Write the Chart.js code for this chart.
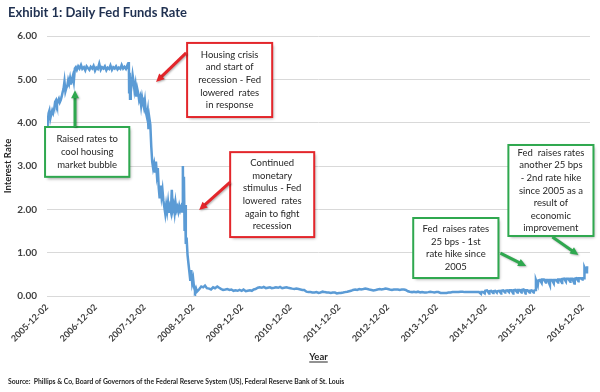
<!DOCTYPE html>
<html>
<head>
<meta charset="utf-8">
<script src="https://cdn.jsdelivr.net/npm/chart.js@4.4.1/dist/chart.umd.min.js"></script>
<style>
    html, body { margin: 0; padding: 0; background: #fff; }
</style>
</head>
<body>
<canvas id="chart" width="600" height="392"></canvas>
<script>
// daily fed funds rate (not every day, the visible turns)
var dates = [
    '2005-12-02', '2005-12-07', '2005-12-14', '2005-12-20', '2005-12-27',
    '2006-01-03', '2006-01-10', '2006-01-17', '2006-01-25', '2006-02-01', '2006-02-08', '2006-02-15', '2006-02-22',
    '2006-03-01', '2006-03-08', '2006-03-15', '2006-03-22', '2006-03-29', '2006-04-05', '2006-04-12', '2006-04-19',
    '2006-04-26', '2006-05-03', '2006-05-10', '2006-05-17', '2006-05-24', '2006-05-31', '2006-06-07', '2006-06-14',
    '2006-06-21', '2006-06-29',
    '2006-07-06', '2006-07-14', '2006-07-24', '2006-08-03', '2006-08-14', '2006-08-24', '2006-09-05', '2006-09-15',
    '2006-09-25', '2006-10-05', '2006-10-16', '2006-10-26', '2006-11-06', '2006-11-16', '2006-11-27', '2006-12-07',
    '2006-12-18', '2006-12-29', '2007-01-09', '2007-01-19', '2007-01-30', '2007-02-09', '2007-02-20', '2007-03-02',
    '2007-03-13', '2007-03-23', '2007-04-03', '2007-04-13', '2007-04-24', '2007-05-04', '2007-05-15', '2007-05-25',
    '2007-06-05', '2007-06-15', '2007-06-26', '2007-07-06', '2007-07-17', '2007-07-27', '2007-08-03', '2007-08-08',
    '2007-08-10', '2007-08-14', '2007-08-17', '2007-08-22', '2007-08-29', '2007-09-05', '2007-09-12', '2007-09-19',
    '2007-09-26', '2007-10-03', '2007-10-10', '2007-10-17', '2007-10-24', '2007-11-01', '2007-11-08', '2007-11-15',
    '2007-11-22', '2007-11-29', '2007-12-06', '2007-12-13', '2007-12-20', '2007-12-27',
    '2008-01-02', '2008-01-09', '2008-01-16', '2008-01-23', '2008-01-30', '2008-02-06', '2008-02-13', '2008-02-20',
    '2008-02-27', '2008-03-05', '2008-03-12', '2008-03-19', '2008-03-26', '2008-04-02', '2008-04-09', '2008-04-16',
    '2008-04-23', '2008-04-30', '2008-05-07', '2008-05-14', '2008-05-21', '2008-05-28', '2008-06-04', '2008-06-11',
    '2008-06-18', '2008-06-25', '2008-07-02', '2008-07-09', '2008-07-16', '2008-07-23', '2008-07-30', '2008-08-06',
    '2008-08-13', '2008-08-20', '2008-08-27', '2008-09-03', '2008-09-10', '2008-09-15', '2008-09-17', '2008-09-19',
    '2008-09-24', '2008-09-29', '2008-10-03', '2008-10-08', '2008-10-14', '2008-10-21', '2008-10-28', '2008-11-04',
    '2008-11-11', '2008-11-18', '2008-11-25', '2008-12-02', '2008-12-09', '2008-12-16', '2008-12-23', '2008-12-31',
    '2009-01-15', '2009-02-01', '2009-02-15', '2009-03-01', '2009-03-15', '2009-04-01', '2009-04-15', '2009-05-01',
    '2009-05-15', '2009-06-01', '2009-06-15', '2009-07-01', '2009-07-15', '2009-08-01', '2009-08-15', '2009-09-01',
    '2009-09-15', '2009-10-01', '2009-10-15', '2009-11-01', '2009-11-15', '2009-12-01', '2009-12-15',
    '2010-01-01', '2010-01-15', '2010-02-01', '2010-02-15', '2010-03-01', '2010-03-15', '2010-04-01', '2010-04-15',
    '2010-05-01', '2010-05-15', '2010-06-01', '2010-06-15', '2010-07-01', '2010-07-15', '2010-08-01', '2010-08-15',
    '2010-09-01', '2010-09-15', '2010-10-01', '2010-10-15', '2010-11-01', '2010-11-15', '2010-12-01', '2010-12-15',
    '2011-01-01', '2011-01-15', '2011-02-01', '2011-02-15', '2011-03-01', '2011-03-15', '2011-04-01', '2011-04-15',
    '2011-05-01', '2011-05-15', '2011-06-01', '2011-06-15', '2011-07-01', '2011-07-15', '2011-08-01', '2011-08-15',
    '2011-09-01', '2011-09-15', '2011-10-01', '2011-10-15', '2011-11-01', '2011-11-15', '2011-12-01', '2011-12-15',
    '2012-01-01', '2012-01-15', '2012-02-01', '2012-02-15', '2012-03-01', '2012-03-15', '2012-04-01', '2012-04-15',
    '2012-05-01', '2012-05-15', '2012-06-01', '2012-06-15', '2012-07-01', '2012-07-15', '2012-08-01', '2012-08-15',
    '2012-09-01', '2012-09-15', '2012-10-01', '2012-10-15', '2012-11-01', '2012-11-15', '2012-12-01', '2012-12-15',
    '2013-01-01', '2013-01-15', '2013-02-01', '2013-02-15', '2013-03-01', '2013-03-15', '2013-04-01', '2013-04-15',
    '2013-05-01', '2013-05-15', '2013-06-01', '2013-06-15', '2013-07-01', '2013-07-15', '2013-08-01', '2013-08-15',
    '2013-09-01', '2013-09-15', '2013-10-01', '2013-10-15', '2013-11-01', '2013-11-15', '2013-12-01', '2013-12-15',
    '2014-01-01', '2014-01-15', '2014-02-01', '2014-02-15', '2014-03-01', '2014-03-15', '2014-04-01', '2014-04-15',
    '2014-05-01', '2014-05-15', '2014-06-01', '2014-06-15', '2014-07-01', '2014-07-15', '2014-08-01', '2014-08-15',
    '2014-09-01', '2014-09-15', '2014-10-01', '2014-10-15', '2014-10-31', '2014-11-03', '2014-11-15', '2014-11-28',
    '2014-12-02', '2014-12-15', '2014-12-31', '2015-01-02', '2015-01-15', '2015-01-30', '2015-02-02', '2015-02-15',
    '2015-02-27', '2015-03-02', '2015-03-15', '2015-03-31', '2015-04-01', '2015-04-15', '2015-04-30', '2015-05-01',
    '2015-05-15', '2015-05-29', '2015-06-01', '2015-06-15', '2015-06-30', '2015-07-01', '2015-07-15', '2015-07-31',
    '2015-08-03', '2015-08-15', '2015-08-31', '2015-09-01', '2015-09-15', '2015-09-30', '2015-10-01', '2015-10-15',
    '2015-10-30', '2015-11-02', '2015-11-15', '2015-11-30', '2015-12-01', '2015-12-15', '2015-12-17', '2015-12-31',
    '2016-01-04', '2016-01-15', '2016-01-29', '2016-02-01', '2016-02-15', '2016-02-29', '2016-03-01', '2016-03-15',
    '2016-03-31', '2016-04-01', '2016-04-15', '2016-04-29', '2016-05-02', '2016-05-15', '2016-05-31', '2016-06-01',
    '2016-06-15', '2016-06-30', '2016-07-01', '2016-07-15', '2016-07-29', '2016-08-01', '2016-08-15', '2016-08-31',
    '2016-09-01', '2016-09-15', '2016-09-30', '2016-10-03', '2016-10-15', '2016-10-31', '2016-11-01', '2016-11-15',
    '2016-11-30', '2016-12-01', '2016-12-14', '2016-12-15', '2016-12-30', '2017-01-03', '2017-01-13'
];
var rates = [
    3.94, 4.00, 4.22, 4.28, 4.10,
    4.20, 4.28, 4.22, 4.32, 4.48, 4.52, 4.42, 4.50,
    4.55, 4.47, 4.52, 4.60, 4.70, 4.78, 4.95, 4.72,
    4.80, 4.85, 4.98, 4.90, 5.02, 4.88, 5.00, 5.08,
    4.95, 5.25,
    5.28, 5.22, 5.30, 5.25, 5.33, 5.24, 5.28, 5.21,
    5.30, 5.26, 5.22, 5.29, 5.25, 5.31, 5.20, 5.27,
    5.24, 5.36, 5.22, 5.28, 5.25, 5.30, 5.21, 5.27,
    5.24, 5.32, 5.22, 5.28, 5.25, 5.30, 5.23, 5.27,
    5.24, 5.33, 5.25, 5.29, 5.24, 5.32, 5.26, 5.40,
    4.70, 5.15, 4.55, 5.05, 4.90, 5.10, 4.95, 4.75,
    4.88, 4.60, 4.78, 4.68, 4.52, 4.60, 4.40, 4.58,
    4.45, 4.35, 4.50, 4.25, 4.15, 4.28,
    3.85, 4.10, 3.95, 3.45, 3.10, 2.95, 3.05, 2.85,
    3.10, 2.80, 2.95, 2.50, 2.25, 2.55, 2.30, 2.45,
    2.20, 2.05, 1.90, 2.10, 1.95, 2.15, 1.92, 2.05,
    1.95, 2.45, 2.00, 2.10, 1.92, 2.15, 1.98, 2.05,
    1.95, 2.08, 1.98, 2.05, 1.95, 2.60, 3.00, 1.95,
    2.75, 1.50, 2.10, 1.20, 1.35, 0.95, 0.75, 0.55,
    0.35, 0.60, 0.30, 0.40, 0.20, 0.12, 0.18, 0.10,
    0.15, 0.22, 0.20, 0.24, 0.18, 0.17, 0.15, 0.20,
    0.18, 0.22, 0.19, 0.16, 0.14, 0.15, 0.16, 0.14,
    0.15, 0.12, 0.13, 0.12, 0.14, 0.12, 0.15,
    0.11, 0.12, 0.13, 0.12, 0.15, 0.16, 0.19, 0.20,
    0.19, 0.21, 0.18, 0.19, 0.20, 0.18, 0.19, 0.20,
    0.19, 0.21, 0.18, 0.19, 0.20, 0.19, 0.18, 0.17,
    0.16, 0.17, 0.16, 0.15, 0.14, 0.14, 0.10, 0.09,
    0.09, 0.08, 0.08, 0.09, 0.07, 0.08, 0.10, 0.09,
    0.08, 0.08, 0.07, 0.08, 0.08, 0.06, 0.07, 0.07,
    0.08, 0.09, 0.10, 0.11, 0.12, 0.14, 0.15, 0.14,
    0.16, 0.15, 0.16, 0.17, 0.16, 0.15, 0.14, 0.13,
    0.14, 0.15, 0.16, 0.15, 0.16, 0.17, 0.16, 0.15,
    0.14, 0.15, 0.15, 0.15, 0.14, 0.15, 0.15, 0.14,
    0.11, 0.10, 0.09, 0.10, 0.09, 0.10, 0.08, 0.09,
    0.08, 0.08, 0.09, 0.10, 0.09, 0.08, 0.09, 0.09,
    0.07, 0.07, 0.07, 0.07, 0.08, 0.08, 0.09, 0.09,
    0.09, 0.09, 0.10, 0.10, 0.09, 0.09, 0.09, 0.09,
    0.09, 0.09, 0.09, 0.09, 0.05, 0.09, 0.09, 0.06,
    0.12, 0.13, 0.06, 0.11, 0.12, 0.07, 0.11, 0.12,
    0.08, 0.11, 0.12, 0.06, 0.12, 0.13, 0.08, 0.12,
    0.13, 0.09, 0.13, 0.13, 0.06, 0.13, 0.14, 0.08,
    0.14, 0.14, 0.08, 0.14, 0.15, 0.06, 0.13, 0.13,
    0.08, 0.12, 0.13, 0.08, 0.12, 0.14, 0.37, 0.25,
    0.36, 0.37, 0.30, 0.38, 0.38, 0.31, 0.37, 0.37,
    0.25, 0.37, 0.37, 0.29, 0.37, 0.37, 0.31, 0.38,
    0.38, 0.30, 0.39, 0.40, 0.33, 0.40, 0.40, 0.33,
    0.40, 0.40, 0.29, 0.40, 0.41, 0.34, 0.41, 0.41,
    0.38, 0.41, 0.41, 0.66, 0.55, 0.66, 0.66
];
var tickLabels = ['2005-12-02', '2006-12-02', '2007-12-02', '2008-12-02', '2009-12-02', '2010-12-02',
    '2011-12-02', '2012-12-02', '2013-12-02', '2014-12-02', '2015-12-02', '2016-12-02'];

// x axis runs in years counted from the first date
var t0 = Date.parse(dates[0]);
function toYears(d) {
    return (Date.parse(d) - t0) / (365.25 * 86400000);
}
var points = dates.map(function (d, i) { return { x: toYears(d), y: rates[i] }; });

// callout boxes, in axis units: box = [xLeft, yTop, xRight, yBottom], arrow from -> to
var notes = [
    { lines: ['Raised rates to', 'cool housing', 'market bubble'], color: '#2fa84f',
      box: [-0.04, 3.90, 1.69, 2.75], from: [0.575, 3.90], to: [0.575, 4.75] },
    { lines: ['Housing crisis', 'and start of', 'recession - Fed', 'lowered  rates', 'in response'], color: '#e3262b',
      box: [2.877, 5.84, 4.624, 4.13], from: [2.857, 5.61], to: [2.24, 4.94] },
    { lines: ['Continued', 'monetary', 'stimulus - Fed', 'lowered  rates', 'again to fight', 'recession'], color: '#e3262b',
      box: [3.761, 3.32, 5.487, 1.36], from: [3.761, 2.63], to: [3.124, 1.985] },
    { lines: ['Fed  raises rates', '25 bps - 1st', 'rate hike since', '2005'], color: '#2fa84f',
      box: [7.52, 1.80, 9.27, 0.415], from: [9.31, 0.99], to: [9.84, 0.69] },
    { lines: ['Fed  raises rates', 'another 25 bps', '- 2nd rate hike', 'since 2005 as a', 'result of', 'economic', 'improvement'], color: '#2fa84f',
      box: [9.474, 3.485, 11.221, 1.385], from: [10.378, 1.362], to: [10.912, 0.946] }
];

function drawArrow(ctx, x1, y1, x2, y2, color) {
    var ang = Math.atan2(y2 - y1, x2 - x1);
    var head = 9;
    ctx.save();
    ctx.shadowColor = 'rgba(0,0,0,0.3)';
    ctx.shadowOffsetX = 1;
    ctx.shadowOffsetY = 1;
    ctx.shadowBlur = 2;
    ctx.strokeStyle = color;
    ctx.fillStyle = color;
    ctx.lineWidth = 3;
    ctx.beginPath();
    ctx.moveTo(x1, y1);
    ctx.lineTo(x2 - Math.cos(ang) * head * 0.8, y2 - Math.sin(ang) * head * 0.8);
    ctx.stroke();
    ctx.beginPath();
    ctx.moveTo(x2, y2);
    ctx.lineTo(x2 - head * Math.cos(ang - 0.45), y2 - head * Math.sin(ang - 0.45));
    ctx.lineTo(x2 - head * Math.cos(ang + 0.45), y2 - head * Math.sin(ang + 0.45));
    ctx.closePath();
    ctx.fill();
    ctx.restore();
}

var extras = {
    id: 'extras',
    afterDatasetsDraw: function (chart) {
        var ctx = chart.ctx, xs = chart.scales.x, ys = chart.scales.y;
        notes.forEach(function (n) {
            var l = xs.getPixelForValue(n.box[0]), t = ys.getPixelForValue(n.box[1]);
            var r = xs.getPixelForValue(n.box[2]), b = ys.getPixelForValue(n.box[3]);
            ctx.save();
            ctx.shadowColor = 'rgba(0,0,0,0.35)';
            ctx.shadowOffsetX = 2;
            ctx.shadowOffsetY = 2;
            ctx.shadowBlur = 3;
            ctx.fillStyle = '#fff';
            ctx.fillRect(l, t, r - l, b - t);
            ctx.restore();
            ctx.save();
            ctx.strokeStyle = n.color;
            ctx.lineWidth = 2;
            ctx.strokeRect(l, t, r - l, b - t);
            ctx.fillStyle = '#262626';
            ctx.font = '9.5px Lato';
            ctx.textAlign = 'center';
            ctx.textBaseline = 'middle';
            var lh = 12.6, cy = (t + b) / 2 - (n.lines.length - 1) * lh / 2;
            n.lines.forEach(function (s, i) { ctx.fillText(s, (l + r) / 2, cy + i * lh); });
            ctx.restore();
            drawArrow(ctx, xs.getPixelForValue(n.from[0]), ys.getPixelForValue(n.from[1]),
                xs.getPixelForValue(n.to[0]), ys.getPixelForValue(n.to[1]), n.color);
        });

        var area = chart.chartArea;
        ctx.save();
        ctx.fillStyle = '#1f3050';
        ctx.font = 'bold 13px Lato';
        ctx.textAlign = 'left';
        ctx.textBaseline = 'alphabetic';
        ctx.fillText('Exhibit 1: Daily Fed Funds Rate', 8, 17);

        ctx.fillStyle = '#262626';
        ctx.font = 'bold 9.5px Lato';
        ctx.textAlign = 'center';
        var cx = (area.left + area.right) / 2;
        ctx.fillText('Year', cx, 360);
        var w = ctx.measureText('Year').width;
        ctx.fillRect(cx - w / 2, 361.5, w, 1);

        ctx.font = 'bold 6.8px Lato';
        ctx.textAlign = 'left';
        ctx.fillText('Source:  Phillips & Co, Board of Governors of the Federal Reserve System (US), Federal Reserve Bank of St. Louis', 8, 384);
        ctx.restore();
    }
};

Chart.defaults.font.family = 'Lato';
Chart.defaults.color = '#404040';

new Chart(document.getElementById('chart').getContext('2d'), {
    type: 'line',
    data: {
        datasets: [{
            data: points,
            borderColor: '#5b9bd5',
            borderWidth: 2.5,
            pointRadius: 0,
            tension: 0,
            fill: false
        }]
    },
    options: {
        responsive: false,
        animation: false,
        layout: { padding: { top: 36, right: 10, left: 0, bottom: 0 } },
        plugins: { legend: { display: false }, tooltip: { enabled: false }, title: { display: false } },
        scales: {
            x: {
                type: 'linear',
                min: 0,
                max: 11.15,
                border: { display: false },
                grid: { display: false, drawTicks: false },
                afterBuildTicks: function (s) {
                    s.ticks = s.ticks.filter(function (t) { return Number.isInteger(t.value) && t.value < tickLabels.length; });
                },
                afterFit: function (s) { s.height = 96; },
                ticks: {
                    stepSize: 1,
                    includeBounds: false,
                    autoSkip: false,
                    minRotation: 45,
                    maxRotation: 45,
                    padding: 6,
                    font: { size: 9, weight: 'bold' },
                    callback: function (v) { return tickLabels[v]; }
                }
            },
            y: {
                min: 0,
                max: 6,
                border: { display: false },
                grid: { color: '#d9d9d9', drawTicks: false },
                afterFit: function (s) { s.width = 47; },
                title: { display: true, text: 'Interest Rate', font: { size: 9.5, weight: 'bold' }, color: '#262626', padding: { top: 2, bottom: 2 } },
                ticks: {
                    stepSize: 1,
                    padding: 10,
                    font: { size: 10, weight: 'bold' },
                    callback: function (v) { return v.toFixed(2); }
                }
            }
        }
    },
    plugins: [extras]
});
</script>
</body>
</html>
